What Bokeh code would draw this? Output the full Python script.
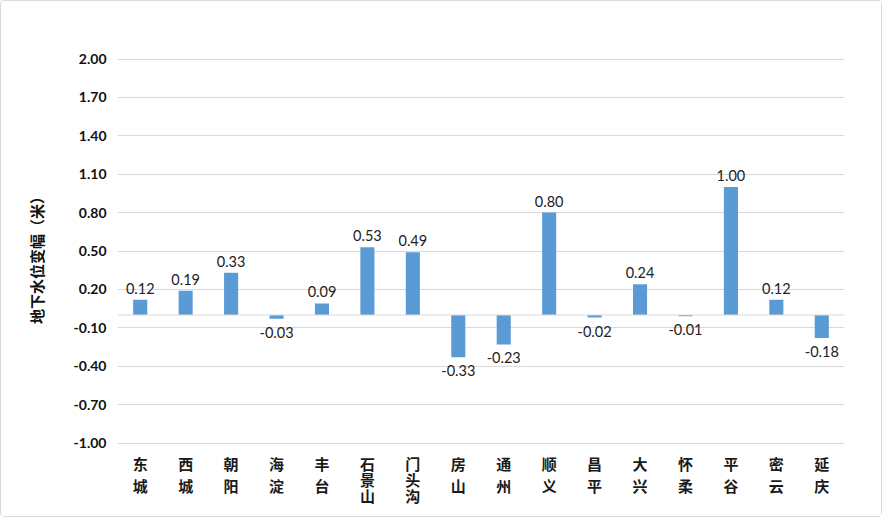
from bokeh.plotting import figure
from bokeh.models import (ColumnDataSource, FactorRange, Range1d, FixedTicker,
                          NumeralTickFormatter, Span)
from bokeh.core.properties import value
from bokeh.embed import file_html
from bokeh.resources import INLINE

# Groundwater level change by district (metres)
districts = ["东城", "西城", "朝阳", "海淀", "丰台", "石景山", "门头沟", "房山",
             "通州", "顺义", "昌平", "大兴", "怀柔", "平谷", "密云", "延庆"]
changes = [0.12, 0.19, 0.33, -0.03, 0.09, 0.53, 0.49, -0.33,
           -0.23, 0.80, -0.02, 0.24, -0.01, 1.00, 0.12, -0.18]
y_ticks = [-1.00, -0.70, -0.40, -0.10, 0.20, 0.50, 0.80, 1.10, 1.40, 1.70, 2.00]

# canvas geometry (pixels)
W, H = 882, 517
PAD_L, PAD_R, PAD_T, PAD_B = 116, 39, 5, 12
SCALE = 128.0          # pixels per metre on the value axis
ROOM_ABOVE = 52.5      # frame space above the top tick
Y_MIN, Y_MAX = min(y_ticks), max(y_ticks)
frame_h = H - PAD_T - PAD_B
y_end = Y_MAX + ROOM_ABOVE / SCALE
y_start = y_end - frame_h / SCALE   # leaves room below for district names

src = ColumnDataSource(dict(d=districts, v=changes))
pos_src = ColumnDataSource(dict(
    d=[d for d, v in zip(districts, changes) if v >= 0],
    v=[v for v in changes if v >= 0],
    lbl=[f"{v:.2f}" for v in changes if v >= 0],
))
neg_src = ColumnDataSource(dict(
    d=[d for d, v in zip(districts, changes) if v < 0],
    v=[v for v in changes if v < 0],
    lbl=[f"{v:.2f}" for v in changes if v < 0],
))

# district names written vertically, one character per line
cx, cy, ch = [], [], []
for d in districts:
    step = 22 if len(d) == 2 else 16
    for k, c in enumerate(d):
        cx.append(d)
        cy.append(Y_MIN - (20 + k * step) / SCALE)
        ch.append(c)
char_src = ColumnDataSource(dict(x=cx, y=cy, t=ch))

p = figure(width=W, height=H, x_range=FactorRange(*districts),
           y_range=Range1d(y_start, y_end), output_backend="svg",
           toolbar_location=None, min_border_left=PAD_L,
           min_border_right=PAD_R, min_border_top=PAD_T,
           min_border_bottom=PAD_B)
p.x_range.range_padding = 0.0
p.outline_line_color = None
p.background_fill_color = "white"
p.border_fill_color = "white"
p.styles = {"border": "1.5px solid #D9D9D9", "border-radius": "4px"}

p.vbar(x="d", top="v", bottom=0, width=0.31, source=src,
       color="#5B9BD5", line_color=None)

p.text(x="d", y="v", text="lbl", source=pos_src, y_offset=-6,
       text_align="center", text_baseline="bottom",
       text_font=value("Lato"), text_font_size="14.5px", text_color="#222222")
p.text(x="d", y="v", text="lbl", source=neg_src, y_offset=8,
       text_align="center", text_baseline="top",
       text_font=value("Lato"), text_font_size="14.5px", text_color="#222222")

p.text(x="x", y="y", text="t", source=char_src,
       text_align="center", text_baseline="middle",
       text_font=value("Noto Sans CJK SC"), text_font_style="bold",
       text_font_size="15px", text_color="#1a1a1a")

# zero line
p.add_layout(Span(location=0, dimension="width", line_color="#D9D9D9",
                  line_width=1))

# y axis
p.yaxis.ticker = FixedTicker(ticks=y_ticks)
p.yaxis.formatter = NumeralTickFormatter(format="0.00")
p.yaxis.axis_line_color = None
p.yaxis.major_tick_line_color = None
p.yaxis.minor_tick_line_color = None
p.yaxis.major_label_text_font = "Lato"
p.yaxis.major_label_text_font_style = "bold"
p.yaxis.major_label_text_font_size = "14px"
p.yaxis.major_label_text_color = "#111111"
p.yaxis.major_label_standoff = 5
p.yaxis.axis_label = "地下水位变幅（米）"
p.yaxis.axis_label_text_font = "Noto Sans CJK SC"
p.yaxis.axis_label_text_font_style = "bold"
p.yaxis.axis_label_text_font_size = "15px"
p.yaxis.axis_label_text_color = "#111111"
p.yaxis.axis_label_standoff = 24

p.ygrid.ticker = FixedTicker(ticks=y_ticks)
p.ygrid.grid_line_color = "#D9D9D9"
p.xgrid.grid_line_color = None

# names are drawn as text above, so the built-in x axis is not shown
p.xaxis.visible = False

open("out.html", "w").write(file_html(p, INLINE))
